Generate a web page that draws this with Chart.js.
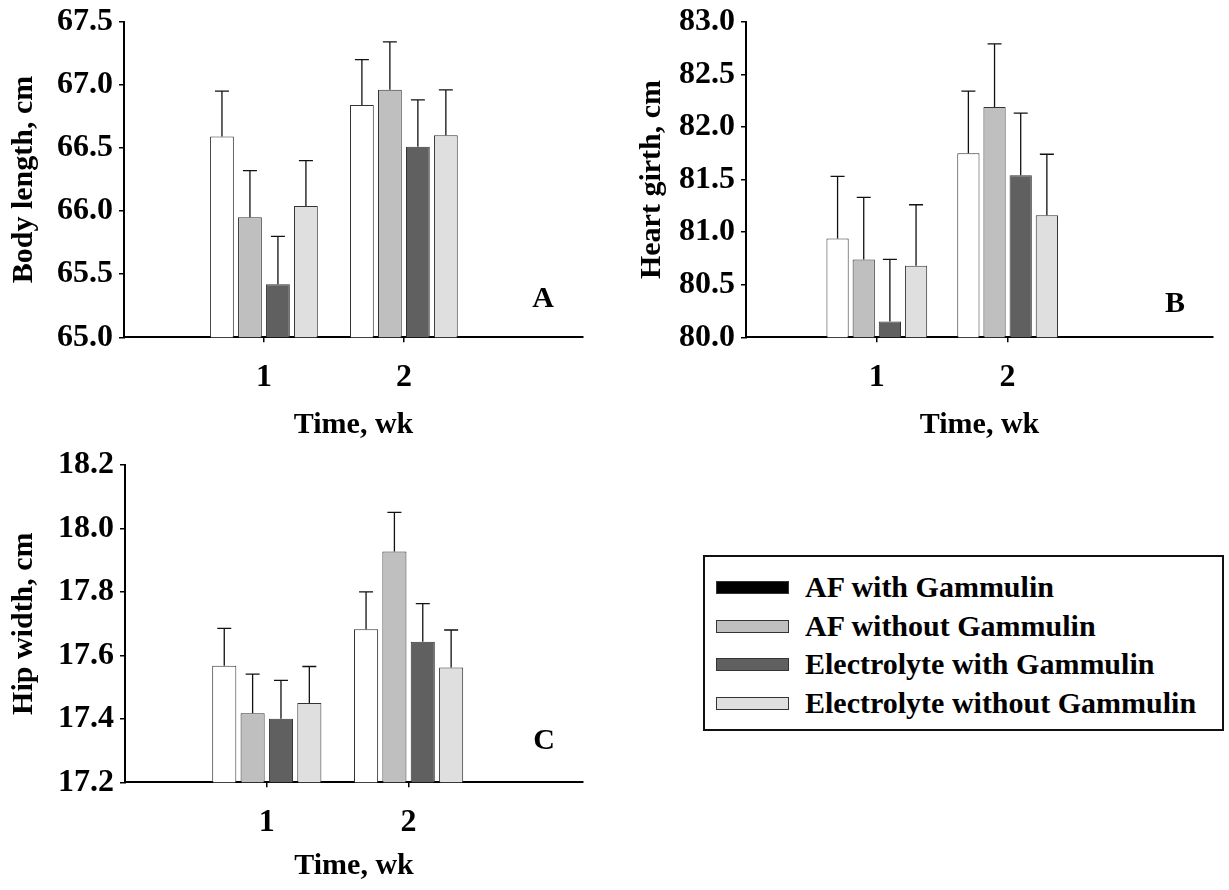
<!DOCTYPE html>
<html>
<head>
<meta charset="utf-8">
<script src="https://cdn.jsdelivr.net/npm/chart.js@4.4.1/dist/chart.umd.min.js"></script>
<style>
  body { margin: 0; background: #fff; width: 1229px; height: 890px; position: relative; overflow: hidden;
         font-family: 'Liberation Serif', 'Times New Roman', serif; }
  canvas { position: absolute; }
  .tag { position: absolute; font-weight: bold; font-size: 30px; line-height: 30px; transform: translate(-50%, -50%); }
  #legend { position: absolute; left: 703px; top: 555px; width: 521px; height: 176px; box-sizing: border-box;
            border: 2px solid #111; }
  .sw { position: absolute; left: 11px; width: 73px; height: 13px; box-sizing: border-box; border: 1px solid #333; }
  .lt { position: absolute; left: 100px; font-weight: bold; font-size: 30px; line-height: 30px; white-space: nowrap; }
</style>
</head>
<body>
<canvas id="chartA" width="600" height="445" style="left:0;top:0"></canvas>
<canvas id="chartB" width="601" height="445" style="left:628px;top:0"></canvas>
<canvas id="chartC" width="600" height="445" style="left:0;top:445px"></canvas>

<div class="tag" style="left:543px;top:297px">A</div>
<div class="tag" style="left:1175px;top:302px">B</div>
<div class="tag" style="left:544px;top:739px">C</div>

<div id="legend"></div>

<script>
// weeks on the x axis
const weeks = [1, 2];
const groups = ['AF with Gammulin', 'AF without Gammulin', 'Electrolyte with Gammulin', 'Electrolyte without Gammulin'];

// body length, cm (mean per group, one value per week) and SE
const bodyLength = [[66.59, 66.84], [65.95, 66.96], [65.42, 66.51], [66.04, 66.60]];
const bodyLengthSE = [[0.36, 0.36], [0.37, 0.38], [0.38, 0.37], [0.36, 0.36]];
const bodyLengthTicks = [65.0, 65.5, 66.0, 66.5, 67.0, 67.5];

// heart girth, cm
const heartGirth = [[80.94, 81.75], [80.74, 82.19], [80.15, 81.54], [80.68, 81.16]];
const heartGirthSE = [[0.59, 0.59], [0.59, 0.60], [0.59, 0.59], [0.58, 0.58]];
const heartGirthTicks = [80.0, 80.5, 81.0, 81.5, 82.0, 82.5, 83.0];

// hip width, cm
const hipWidth = [[17.567, 17.682], [17.418, 17.927], [17.40, 17.643], [17.45, 17.562]];
const hipWidthSE = [[0.118, 0.118], [0.123, 0.124], [0.121, 0.12], [0.115, 0.118]];
const hipWidthTicks = [17.2, 17.4, 17.6, 17.8, 18.0, 18.2];

const barFills = ['#ffffff', '#bfbfbf', '#606060', '#dfdfdf'];
const legendFills = ['#000000', '#bfbfbf', '#606060', '#dfdfdf'];
const FONT = "'Liberation Serif', 'Times New Roman', serif";

// upward-only error bars with a cap
const errorBars = {
  id: 'errorBars',
  afterDatasetsDraw(chart) {
    const ctx = chart.ctx;
    const y = chart.scales.y;
    ctx.save();
    ctx.strokeStyle = '#111';
    ctx.lineWidth = 1.3;
    chart.data.datasets.forEach((ds, i) => {
      chart.getDatasetMeta(i).data.forEach((bar, j) => {
        const top = y.getPixelForValue(ds.data[j].y + ds.errors[j]);
        ctx.beginPath();
        ctx.moveTo(bar.x, bar.y);
        ctx.lineTo(bar.x, top);
        ctx.moveTo(bar.x - 7, top);
        ctx.lineTo(bar.x + 7, top);
        ctx.stroke();
      });
    });
    ctx.restore();
  }
};

function makePanel(id, title, means, ses, ticks, box) {
  const canvas = document.getElementById(id);
  return new Chart(canvas.getContext('2d'), {
    type: 'bar',
    data: {
      datasets: groups.map((g, i) => ({
        label: g,
        data: weeks.map((w, k) => ({ x: w, y: means[i][k] })),
        errors: ses[i],
        backgroundColor: barFills[i],
        borderColor: '#333',
        borderWidth: 1,
        categoryPercentage: 0.8,
        barPercentage: 0.85
      }))
    },
    options: {
      responsive: false,
      animation: false,
      events: [],
      layout: { padding: { left: 0, top: box.top, right: box.right, bottom: box.bottom } },
      plugins: { legend: { display: false }, tooltip: { enabled: false } },
      scales: {
        x: {
          type: 'linear',
          offset: false,
          min: 0,
          max: box.xMax,
          afterBuildTicks: s => { s.ticks = weeks.map(v => ({ value: v })); },
          afterFit: s => { s.height = box.xHeight; s.paddingLeft = 0; s.paddingRight = 0; },
          ticks: {
            callback: v => String(v),
            color: '#000',
            padding: 16,
            font: { family: FONT, size: 32, weight: 'bold', lineHeight: 1.2 }
          },
          grid: { offset: false, drawOnChartArea: false, drawTicks: true, tickLength: 5, color: '#000', lineWidth: 1.5 },
          border: { display: true, color: '#000', width: 2 },
          title: {
            display: true,
            text: 'Time, wk',
            color: '#000',
            padding: 0,
            font: { family: FONT, size: 30, weight: 'bold', lineHeight: 1.2 }
          }
        },
        y: {
          min: ticks[0],
          max: ticks[ticks.length - 1],
          beginAtZero: false,
          afterBuildTicks: s => { s.ticks = ticks.map(v => ({ value: v })); },
          afterFit: s => { s.width = box.yWidth; s.paddingTop = 0; s.paddingBottom = 0; },
          ticks: {
            callback: v => Number(v).toFixed(1),
            color: '#000',
            padding: 6,
            font: { family: FONT, size: 32, weight: 'bold', lineHeight: 1.2 }
          },
          grid: { drawOnChartArea: false, drawTicks: true, tickLength: 5, color: '#000', lineWidth: 1.5 },
          border: { display: true, color: '#000', width: 2 },
          title: {
            display: true,
            text: title,
            color: '#000',
            padding: { top: 6, bottom: 0 },
            font: { family: FONT, size: 30, weight: 'bold', lineHeight: 1.2 }
          }
        }
      }
    },
    plugins: [errorBars]
  });
}

makePanel('chartA', 'Body length, cm', bodyLength, bodyLengthSE, bodyLengthTicks,
  { top: 21.7, right: 17, bottom: 2, xHeight: 105.7, yWidth: 124, xMax: 3.28 });
makePanel('chartB', 'Heart girth, cm', heartGirth, heartGirthSE, heartGirthTicks,
  { top: 21.7, right: 16, bottom: 2, xHeight: 105.7, yWidth: 118, xMax: 3.57 });
makePanel('chartC', 'Hip width, cm', hipWidth, hipWidthSE, hipWidthTicks,
  { top: 20, right: 17, bottom: 6, xHeight: 101.7, yWidth: 125, xMax: 3.23 });

// shared legend box
const legend = document.getElementById('legend');
const rowCentres = [30, 69, 107, 146];
groups.forEach((g, i) => {
  const sw = document.createElement('div');
  sw.className = 'sw';
  sw.style.top = (rowCentres[i] - 6.5) + 'px';
  sw.style.background = legendFills[i];
  legend.appendChild(sw);
  const t = document.createElement('div');
  t.className = 'lt';
  t.style.top = (rowCentres[i] - 15) + 'px';
  t.textContent = g;
  legend.appendChild(t);
});
</script>
</body>
</html>
